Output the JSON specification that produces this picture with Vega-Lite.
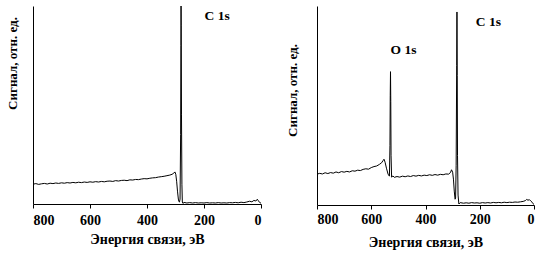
{
  "$schema": "https://vega.github.io/schema/vega-lite/v6.json",
  "padding": {"left": 5, "top": 6, "right": 5, "bottom": 5},
  "background": "white",
  "config": {
    "view": {"stroke": null},
    "font": "Liberation Serif",
    "concat": {"spacing": 56},
    "axis": {
      "grid": false,
      "domainColor": "black",
      "domainWidth": 1,
      "tickColor": "black",
      "labelFont": "Liberation Serif",
      "labelFontWeight": "bold",
      "labelFontSize": 14,
      "labelColor": "black",
      "titleFont": "Liberation Serif",
      "titleFontWeight": "bold",
      "titleFontSize": 14,
      "titleColor": "black"
    }
  },
  "bounds": "flush",
  "datasets": {
    "a": [
      {"e": 800, "s": 10.0}, {"e": 790, "s": 10.3}, {"e": 780, "s": 9.9}, {"e": 770, "s": 10.2},
      {"e": 760, "s": 10.4}, {"e": 750, "s": 10.1}, {"e": 740, "s": 10.5}, {"e": 730, "s": 10.3},
      {"e": 720, "s": 10.6}, {"e": 710, "s": 10.4}, {"e": 700, "s": 10.7}, {"e": 690, "s": 10.5},
      {"e": 680, "s": 10.8}, {"e": 670, "s": 10.6}, {"e": 660, "s": 10.9}, {"e": 650, "s": 10.7},
      {"e": 640, "s": 11.0}, {"e": 630, "s": 10.8}, {"e": 620, "s": 11.1}, {"e": 610, "s": 10.9},
      {"e": 600, "s": 11.2}, {"e": 590, "s": 11.0}, {"e": 580, "s": 11.3}, {"e": 570, "s": 11.1},
      {"e": 560, "s": 11.4}, {"e": 550, "s": 11.2}, {"e": 540, "s": 11.5}, {"e": 530, "s": 11.6},
      {"e": 520, "s": 11.4}, {"e": 510, "s": 11.8}, {"e": 500, "s": 11.6}, {"e": 490, "s": 11.9},
      {"e": 480, "s": 12.0}, {"e": 470, "s": 11.8}, {"e": 460, "s": 12.2}, {"e": 450, "s": 12.1},
      {"e": 440, "s": 12.4}, {"e": 430, "s": 12.3}, {"e": 420, "s": 12.6}, {"e": 410, "s": 12.8},
      {"e": 400, "s": 12.7}, {"e": 390, "s": 13.0}, {"e": 380, "s": 13.2}, {"e": 370, "s": 13.3},
      {"e": 360, "s": 13.6}, {"e": 350, "s": 13.8}, {"e": 340, "s": 14.0}, {"e": 330, "s": 14.3},
      {"e": 320, "s": 14.6}, {"e": 312, "s": 15.0}, {"e": 306, "s": 15.6}, {"e": 302, "s": 16.2},
      {"e": 299, "s": 15.0}, {"e": 296, "s": 11.5}, {"e": 293, "s": 6.5}, {"e": 290, "s": 2.5},
      {"e": 288, "s": 1.2}, {"e": 286, "s": 1.0}, {"e": 284, "s": 2.5}, {"e": 282, "s": 35},
      {"e": 281, "s": 80}, {"e": 280.5, "s": 100}, {"e": 280, "s": 90}, {"e": 279, "s": 45},
      {"e": 277.5, "s": 10}, {"e": 276, "s": 1.0}, {"e": 274, "s": 0.3}, {"e": 270, "s": 0.8},
      {"e": 260, "s": 0.5}, {"e": 250, "s": 0.7}, {"e": 240, "s": 0.5}, {"e": 230, "s": 0.7},
      {"e": 220, "s": 0.5}, {"e": 210, "s": 0.6}, {"e": 200, "s": 0.5}, {"e": 190, "s": 0.7},
      {"e": 180, "s": 0.5}, {"e": 170, "s": 0.6}, {"e": 160, "s": 0.5}, {"e": 150, "s": 0.7},
      {"e": 140, "s": 0.5}, {"e": 130, "s": 0.6}, {"e": 120, "s": 0.5}, {"e": 110, "s": 0.7},
      {"e": 100, "s": 0.6}, {"e": 90, "s": 0.8}, {"e": 80, "s": 0.6}, {"e": 70, "s": 0.9},
      {"e": 60, "s": 0.7}, {"e": 50, "s": 1.0}, {"e": 40, "s": 1.4}, {"e": 32, "s": 1.1},
      {"e": 25, "s": 1.8}, {"e": 18, "s": 1.5}, {"e": 13, "s": 2.4}, {"e": 9, "s": 1.6},
      {"e": 5, "s": 0.8}, {"e": 0, "s": 0.4}
    ],
    "b": [
      {"e": 800, "s": 15.5}, {"e": 790, "s": 15.9}, {"e": 780, "s": 15.6}, {"e": 770, "s": 16.2},
      {"e": 760, "s": 15.8}, {"e": 750, "s": 16.3}, {"e": 740, "s": 16.0}, {"e": 730, "s": 16.6},
      {"e": 720, "s": 16.2}, {"e": 710, "s": 16.8}, {"e": 700, "s": 16.5}, {"e": 690, "s": 16.9},
      {"e": 680, "s": 16.6}, {"e": 670, "s": 17.2}, {"e": 660, "s": 17.0}, {"e": 650, "s": 17.5},
      {"e": 640, "s": 17.3}, {"e": 630, "s": 17.9}, {"e": 620, "s": 18.2}, {"e": 610, "s": 18.0},
      {"e": 600, "s": 18.8}, {"e": 590, "s": 19.3}, {"e": 580, "s": 19.6}, {"e": 570, "s": 20.4},
      {"e": 562, "s": 21.2}, {"e": 556, "s": 22.4}, {"e": 553, "s": 23.0}, {"e": 549, "s": 21.5},
      {"e": 544, "s": 18.5}, {"e": 538, "s": 15.5}, {"e": 533, "s": 14.5}, {"e": 531, "s": 30},
      {"e": 530, "s": 55}, {"e": 529, "s": 67}, {"e": 528, "s": 52}, {"e": 527, "s": 25},
      {"e": 525, "s": 14.0}, {"e": 520, "s": 14.6}, {"e": 515, "s": 13.9}, {"e": 505, "s": 14.3},
      {"e": 495, "s": 14.0}, {"e": 485, "s": 14.5}, {"e": 475, "s": 14.2}, {"e": 465, "s": 14.6},
      {"e": 455, "s": 14.3}, {"e": 445, "s": 14.8}, {"e": 435, "s": 14.5}, {"e": 425, "s": 14.9},
      {"e": 415, "s": 14.6}, {"e": 405, "s": 15.0}, {"e": 395, "s": 14.8}, {"e": 385, "s": 15.2},
      {"e": 375, "s": 14.9}, {"e": 365, "s": 15.3}, {"e": 355, "s": 15.0}, {"e": 345, "s": 15.4},
      {"e": 335, "s": 15.2}, {"e": 325, "s": 15.6}, {"e": 315, "s": 15.5}, {"e": 308, "s": 16.3},
      {"e": 304, "s": 17.7}, {"e": 300, "s": 16.5}, {"e": 297, "s": 13}, {"e": 294, "s": 7},
      {"e": 291, "s": 2.9}, {"e": 289, "s": 3.5}, {"e": 287, "s": 20}, {"e": 285, "s": 70},
      {"e": 284, "s": 97}, {"e": 283, "s": 65}, {"e": 282, "s": 25}, {"e": 280, "s": 5},
      {"e": 277, "s": 0.5}, {"e": 272, "s": 1.2}, {"e": 260, "s": 0.9}, {"e": 250, "s": 1.1},
      {"e": 240, "s": 0.9}, {"e": 230, "s": 1.2}, {"e": 220, "s": 1.0}, {"e": 210, "s": 1.1},
      {"e": 200, "s": 0.9}, {"e": 190, "s": 1.2}, {"e": 180, "s": 1.0}, {"e": 170, "s": 1.2},
      {"e": 160, "s": 1.0}, {"e": 150, "s": 1.3}, {"e": 140, "s": 1.1}, {"e": 130, "s": 1.3},
      {"e": 120, "s": 1.1}, {"e": 110, "s": 1.4}, {"e": 100, "s": 1.2}, {"e": 90, "s": 1.4},
      {"e": 80, "s": 1.3}, {"e": 70, "s": 1.5}, {"e": 60, "s": 1.4}, {"e": 50, "s": 1.6},
      {"e": 40, "s": 1.8}, {"e": 32, "s": 2.2}, {"e": 27, "s": 2.8}, {"e": 22, "s": 2.4},
      {"e": 17, "s": 2.7}, {"e": 12, "s": 2.0}, {"e": 7, "s": 1.4}, {"e": 3, "s": 0.6},
      {"e": 0, "s": 0.2}
    ],
    "la": [{"e": 154, "s": 95, "t": "C 1s"}],
    "lb": [{"e": 168, "s": 92, "t": "C 1s"}, {"e": 481, "s": 78, "t": "O 1s"}]
  },
  "hconcat": [
    {
      "width": 228,
      "height": 198,
      "layer": [
        {
          "data": {"name": "a"},
          "mark": {"type": "line", "color": "black", "strokeWidth": 1, "clip": true},
          "encoding": {
            "x": {
              "field": "e", "type": "quantitative",
              "scale": {"domain": [800, 0], "nice": false, "zero": false},
              "axis": {
                "values": [800, 750, 700, 650, 600, 550, 500, 450, 400, 350, 300, 250, 200, 150, 100, 50, 0],
                "labelExpr": "datum.value % 200 === 0 ? datum.label : ''",
                "tickSize": {"condition": {"test": "datum.value % 200 === 0", "value": 4}, "value": 2.5},
                "labelPadding": 5,
                "labelOverlap": false,
                "title": "Энергия связи, эВ",
                "titlePadding": 5
              }
            },
            "y": {
              "field": "s", "type": "quantitative",
              "scale": {"domain": [0, 100], "nice": false},
              "axis": {
                "ticks": false, "labels": false,
                "title": "Сигнал, отн. ед.",
                "titleFontSize": 13,
                "titleX": -21, "titleY": 57,
                "titleAngle": -90, "titleAlign": "center", "titleBaseline": "middle"
              }
            }
          }
        },
        {
          "data": {"name": "la"},
          "mark": {"type": "text", "font": "Liberation Serif", "fontWeight": "bold", "fontSize": 13.5, "color": "black"},
          "encoding": {
            "x": {"field": "e", "type": "quantitative"},
            "y": {"field": "s", "type": "quantitative"},
            "text": {"field": "t"}
          }
        }
      ]
    },
    {
      "width": 217,
      "height": 199,
      "layer": [
        {
          "data": {"name": "b"},
          "mark": {"type": "line", "color": "black", "strokeWidth": 1, "clip": true},
          "encoding": {
            "x": {
              "field": "e", "type": "quantitative",
              "scale": {"domain": [800, 0], "nice": false, "zero": false},
              "axis": {
                "values": [800, 750, 700, 650, 600, 550, 500, 450, 400, 350, 300, 250, 200, 150, 100, 50, 0],
                "labelExpr": "datum.value % 200 === 0 ? datum.label : ''",
                "tickSize": {"condition": {"test": "datum.value % 200 === 0", "value": 4}, "value": 2.5},
                "labelPadding": 3,
                "labelOverlap": false,
                "title": "Энергия связи, эВ",
                "titlePadding": 9
              }
            },
            "y": {
              "field": "s", "type": "quantitative",
              "scale": {"domain": [0, 100], "nice": false},
              "axis": {
                "ticks": false, "labels": false,
                "title": "Сигнал, отн. ед.",
                "titleFontSize": 13,
                "titleX": -25, "titleY": 84,
                "titleAngle": -90, "titleAlign": "center", "titleBaseline": "middle"
              }
            }
          }
        },
        {
          "data": {"name": "lb"},
          "mark": {"type": "text", "font": "Liberation Serif", "fontWeight": "bold", "fontSize": 13.5, "color": "black"},
          "encoding": {
            "x": {"field": "e", "type": "quantitative"},
            "y": {"field": "s", "type": "quantitative"},
            "text": {"field": "t"}
          }
        }
      ]
    }
  ]
}
